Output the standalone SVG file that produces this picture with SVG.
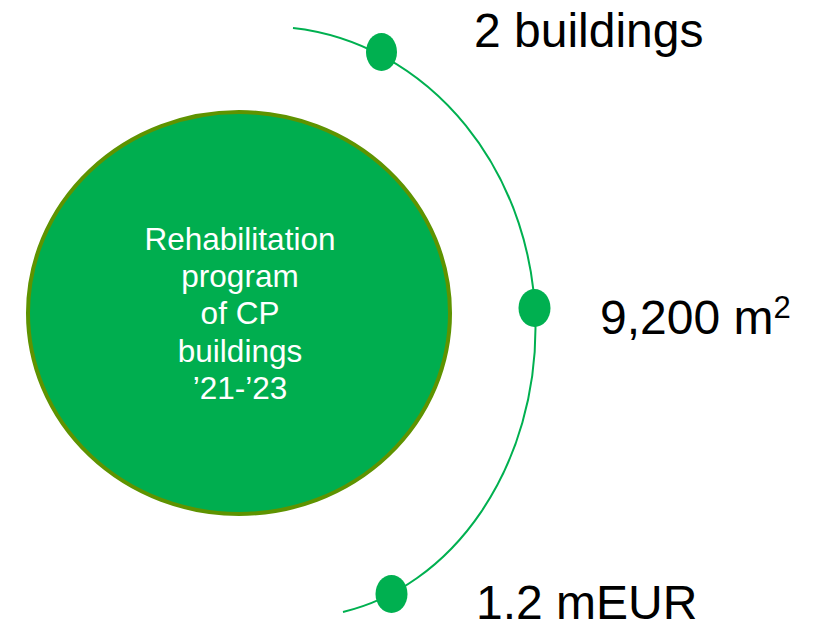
<svg xmlns="http://www.w3.org/2000/svg" width="825" height="623" viewBox="0 0 825 623">
<style>
.dot{fill:#00B050}
.big{font-family:"Liberation Sans",Arial,sans-serif;font-size:48px;fill:#000}
.in{font-family:"Liberation Sans",Arial,sans-serif;font-size:31.5px;fill:#fff;text-anchor:middle}
</style>
<rect width="825" height="623" fill="#fff"/>
<g id="center-node">
<ellipse cx="239" cy="313" rx="211" ry="201" fill="#00AE4F" stroke="#5E9300" stroke-width="4"/>
<text class="in" x="240" y="250">Rehabilitation</text>
<text class="in" x="240" y="287">program</text>
<text class="in" x="240" y="324">of CP</text>
<text class="in" x="240" y="362">buildings</text>
<text class="in" x="240" y="399">’21-’23</text>
</g>
<g id="connectors">
<path d="M293 28 A268.9 301.4 0 0 1 535.5 328 A238.6 289.5 0 0 1 343 612" fill="none" stroke="#00B050" stroke-width="2"/>
</g>
<g id="node-buildings">
<ellipse class="dot" cx="381.5" cy="52" rx="15.5" ry="19"/>
<text class="big" x="474" y="47">2 buildings</text>
</g>
<g id="node-area">
<ellipse class="dot" cx="534.5" cy="308" rx="16" ry="19"/>
<text class="big" x="600" y="334">9,200 m<tspan font-size="31" dy="-16">2</tspan></text>
</g>
<g id="node-cost">
<ellipse class="dot" cx="391.5" cy="594" rx="16" ry="19"/>
<text class="big" x="476" y="619">1.2 mEUR</text>
</g>
</svg>
